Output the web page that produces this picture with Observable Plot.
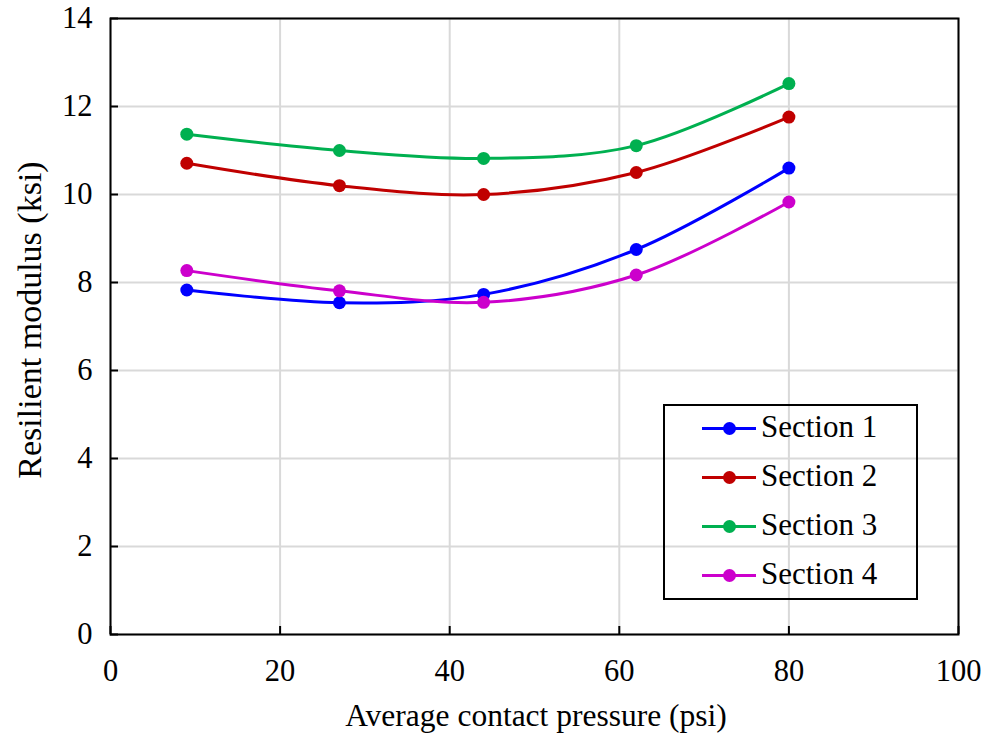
<!DOCTYPE html>
<html>
<head>
<meta charset="utf-8">
<script src="https://cdn.jsdelivr.net/npm/d3@7"></script>
<script src="https://cdn.jsdelivr.net/npm/@observablehq/plot@0.6"></script>
<style>
  html, body { margin: 0; padding: 0; background: #fff; }
  #chart { position: relative; width: 989px; height: 736px; font-family: "Liberation Serif", "Times New Roman", serif; color: #000; }
  #chart svg { display: block; }
  .ttl { position: absolute; font-size: 31.5px; white-space: nowrap; line-height: 1; }
  #xtitle { left: 536px; top: 716px; transform: translate(-50%, -50%); }
  #ytitle { left: 30px; top: 320px; transform: translate(-50%, -50%) rotate(-90deg); font-size: 34px; }
  #legend { position: absolute; left: 663px; top: 404px; width: 255px; height: 196px; box-sizing: border-box; border: 2px solid #000; }
  .row { position: absolute; left: 0; height: 40px; width: 100%; }
  .sw-line { position: absolute; left: 37px; width: 54px; height: 3px; top: 18.5px; }
  .sw-dot { position: absolute; left: 57.5px; width: 13px; height: 13px; border-radius: 50%; top: 13.5px; }
  .lbl { position: absolute; left: 96px; top: 3px; font-size: 31px; line-height: 1; white-space: nowrap; }
</style>
</head>
<body>
<div id="chart">
  <div id="xtitle" class="ttl"></div>
  <div id="ytitle" class="ttl"></div>
  <div id="legend"></div>
</div>
<script>
const pressure = [9, 27, 44, 62, 80];
const seriesNames = ["Section 1", "Section 2", "Section 3", "Section 4"];
const section1 = [7.83, 7.54, 7.73, 8.75, 10.60];
const section2 = [10.71, 10.20, 10.00, 10.50, 11.76];
const section3 = [11.37, 11.00, 10.82, 11.11, 12.52];
const section4 = [8.27, 7.81, 7.55, 8.17, 9.83];
const seriesColors = ["#0000FF", "#C00000", "#00B050", "#CC00CC"];
const xTicks = [0, 20, 40, 60, 80, 100];
const yTicks = [0, 2, 4, 6, 8, 10, 12, 14];
const xTitle = "Average contact pressure (psi)";
const yTitle = "Resilient modulus (ksi)";

const seriesValues = [section1, section2, section3, section4];
const data = [];
seriesNames.forEach((s, i) => {
  pressure.forEach((p, j) => data.push({series: s, x: p, y: seriesValues[i][j]}));
});

const FONT = "Liberation Serif";

const plot = Plot.plot({
  width: 989, height: 736,
  marginLeft: 110, marginRight: 31, marginTop: 18, marginBottom: 102,
  x: {domain: [0, 100], label: null},
  y: {domain: [0, 14], label: null},
  color: {domain: seriesNames, range: seriesColors},
  marks: [
    Plot.gridX(xTicks, {stroke: "#d9d9d9", strokeOpacity: 1, strokeWidth: 2}),
    Plot.gridY(yTicks, {stroke: "#d9d9d9", strokeOpacity: 1, strokeWidth: 2}),
    Plot.axisX(xTicks, {tickSize: -8, tickFormat: () => "", strokeWidth: 2}),
    Plot.axisY(yTicks, {tickSize: -8, tickFormat: () => "", strokeWidth: 2}),
    Plot.axisX(xTicks, {tickSize: 0, tickPadding: 25, fontSize: 30.5, fontFamily: FONT, fill: "#000"}),
    Plot.axisY(yTicks, {tickSize: 0, tickPadding: 18, fontSize: 30.5, fontFamily: FONT, fill: "#000"}),
    Plot.frame({stroke: "#000", strokeWidth: 2}),
    Plot.line(data, {x: "x", y: "y", z: "series", stroke: "series", strokeWidth: 3, curve: "catmull-rom"}),
    Plot.dot(data, {x: "x", y: "y", fill: "series", r: 6.5})
  ]
});

const chart = document.getElementById("chart");
chart.prepend(plot);
document.getElementById("xtitle").textContent = xTitle;
document.getElementById("ytitle").textContent = yTitle;

const legend = document.getElementById("legend");
seriesNames.forEach((s, i) => {
  const row = document.createElement("div");
  row.className = "row";
  row.style.top = (2 + i * 49) + "px";
  row.innerHTML = `<div class="sw-line" style="background:${seriesColors[i]}"></div>` +
    `<div class="sw-dot" style="background:${seriesColors[i]}"></div>` +
    `<div class="lbl"></div>`;
  row.querySelector(".lbl").textContent = s;
  legend.appendChild(row);
});
</script>
</body>
</html>
